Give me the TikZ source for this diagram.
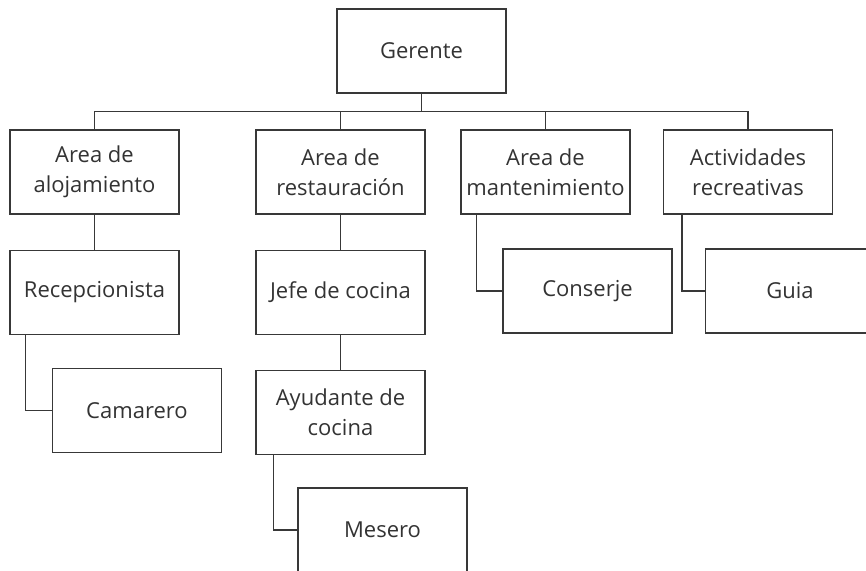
\documentclass[tikz,border=0pt]{standalone}
\usepackage{fontspec}
\setmainfont{Open Sans}
\usepackage{tikz}
\usetikzlibrary{positioning, calc}

\begin{document}
\begin{tikzpicture}[x=1pt, y=-1pt]
		\tikzstyle{unit}=[rectangle, draw=black!78, line width=1.3pt, minimum width=169pt, minimum height=84pt, inner sep=0pt, align=center, text=black!80, font=\fontsize{22}{30}\selectfont]
		\tikzstyle{link}=[draw=black!78, line width=1.3pt]

		\useasboundingbox (0,0) rectangle (866,570);
		\clip (0,0) rectangle (866,570);

		\node[unit] (gerente) at (421.5,51) {Gerente};

		% areas
		\node[unit] (alojamiento) at (94.5,172) {Area de\\alojamiento};
		\node[unit] (restauracion) at (340.5,172) {Area de\\restauración};
		\node[unit] (mantenimiento) at (545.5,172) {Area de\\mantenimiento};
		\node[unit] (actividades) at (748,172) {Actividades\\recreativas};

		% puestos
		\node[unit, below=35pt of alojamiento] (recepcionista) {Recepcionista};
		\node[unit, below=35pt of restauracion] (jefe) {Jefe de cocina};
		\node[unit] (conserje) at (587.5,291) {Conserje};
		\node[unit] (guia) at (790,291) {Guia};
		\node[unit] (camarero) at (137,410.5) {Camarero};
		\node[unit, below=35pt of jefe] (ayudante) {Ayudante de\\cocina};
		\node[unit] (mesero) at (382.5,530) {Mesero};

		\coordinate (bar) at ($(gerente.south)+(0,18)$);

		\draw[link] (gerente.south) -- (bar);
		\draw[link] (alojamiento.north) |- (bar) -| (actividades.north);
		\draw[link] (restauracion.north) -- (restauracion.north |- bar);
		\draw[link] (mantenimiento.north) -- (mantenimiento.north |- bar);

		\draw[link] (alojamiento) -- (recepcionista);
		\draw[link] (restauracion) -- (jefe);
		\draw[link] (jefe) -- (ayudante);
		\draw[link] ([xshift=16pt]recepcionista.south west) |- (camarero.west);
		\draw[link] ([xshift=18pt]ayudante.south west) |- (mesero.west);
		\draw[link] ([xshift=16pt]mantenimiento.south west) |- (conserje.west);
		\draw[link] ([xshift=19pt]actividades.south west) |- (guia.west);

	\end{tikzpicture}
\end{document}
